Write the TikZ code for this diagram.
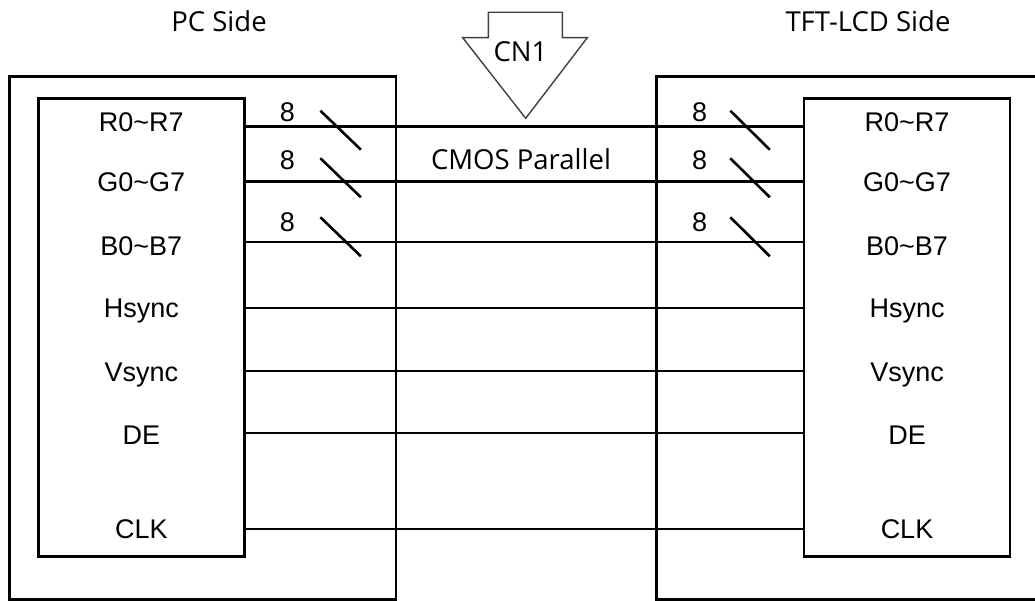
\documentclass[tikz,border=0pt]{standalone}
\usepackage{fontspec}
\setmainfont{Liberation Sans}
\newfontfamily\titlefont{Open Sans}
\usetikzlibrary{positioning,calc}
\tikzset{
  frame/.style  ={draw,line width=2.8pt},
  inbox/.style  ={draw,line width=2.8pt,minimum width=206pt,minimum height=458pt,inner sep=0pt},
  sig/.style    ={font=\fontsize{27}{32}\selectfont,inner sep=0pt,anchor=base},
  title/.style  ={font=\titlefont\fontsize{27.5}{32}\selectfont,inner sep=0pt,anchor=base},
  wire/.style   ={line width=2.8pt},
  slash/.style  ={line width=2.6pt},
  plug/.style   ={draw=black!75,line width=1.4pt,fill=white,line join=miter},
}

\begin{document}
\begin{tikzpicture}[x=1pt,y=-1pt]
  \useasboundingbox (0,0) rectangle (1035,601);
  \clip (0,0) rectangle (1035,601);
  % both sides
  \draw[frame] (9.5,76.7) rectangle (396,599.5);
  \draw[frame] (656.7,76.7) rectangle (1050,599.5);
  \node[title] (pcside) at (219,32) {PC Side};
  \node[title] (lcdside) at (868,32) {TFT-LCD Side};
  \node[inbox] (pc) at (141.3,327.8) {};
  \node[inbox] (lcd) at (907,327.8) {};
  % signals
  \foreach \y/\ly/\name/\txt in {126.7/132/r/R0\textasciitilde R7,181.7/192/g/G0\textasciitilde G7,
      242/256/b/B0\textasciitilde B7,308/317/h/Hsync,371/381/v/Vsync,433/444/de/DE,529/538/clk/CLK}{
     \node[sig] (pc\name) at (141.3,\ly) {\txt};
     \node[sig] (lcd\name) at (907,\ly) {\txt};
     \coordinate (pc\name w) at (pc.east |- 0,\y);
     \coordinate (lcd\name w) at (lcd.west |- 0,\y);
     \draw[wire] (pc\name w) -- (lcd\name w);
  }
  % bus width marks
  \foreach \name/\up/\ny in {r/-16/122,g/-23.4/170,b/-24.7/232}{
     \draw[slash] ($(pc\name w)+(74.7,\up)$) -- ++(40.5,39);
     \draw[slash] ($(lcd\name w)+(-72.3,\up)$) -- ++(39.5,39);
     \node[sig] (pc\name n) at (287.5,\ny) {8};
     \node[sig] (lcd\name n) at (699.5,\ny) {8};
  }
  \node[title] (cmos) at (521,170) {CMOS Parallel};
  % connector arrow
  \draw[plug] (488.3,12.3) -- (562.3,12.3) -- (562.3,37.7) -- (587.3,37.7)
     -- (525.7,118.3) -- (462.7,37.7) -- (488.3,37.7) -- cycle;
  \node[title] (cn) at (520.5,62) {CN1};
\end{tikzpicture}
\end{document}
